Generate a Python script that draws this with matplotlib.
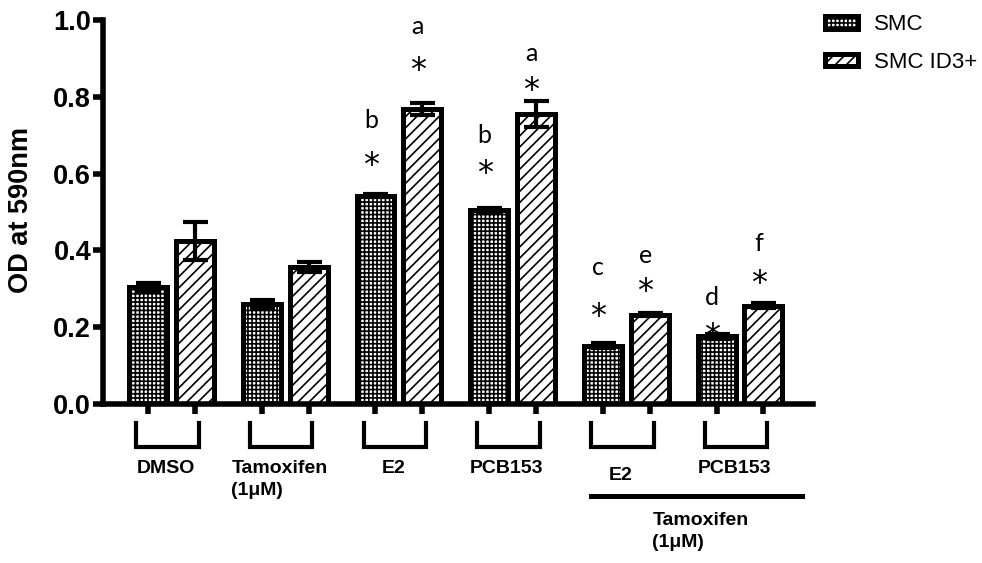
import numpy as np
import matplotlib
matplotlib.use("Agg")
import matplotlib.pyplot as plt
import matplotlib.transforms as mtransforms

# bar values
groups = ["DMSO", "Tamoxifen\n(1μM)", "E2", "PCB153", "E2", "PCB153"]
smc = [0.305, 0.260, 0.543, 0.505, 0.152, 0.176]
smc_err = [0.010, 0.012, 0.005, 0.005, 0.007, 0.006]
id3 = [0.424, 0.358, 0.769, 0.755, 0.233, 0.256]
id3_err = [0.050, 0.013, 0.016, 0.033, 0.005, 0.006]
series_names = ["SMC", "SMC ID3+"]

# significance marks: (group, bar 0=SMC 1=ID3+, letter, letter y, star y)
sig_group = [2, 2, 3, 3, 4, 4, 5, 5]
sig_bar = [0, 1, 0, 1, 0, 1, 0, 1]
sig_letter = ["b", "a", "b", "a", "c", "e", "d", "f"]
sig_letter_y = [0.739, 0.982, 0.700, 0.914, 0.355, 0.386, 0.277, 0.418]
sig_star_y = [0.642, 0.890, 0.621, 0.838, 0.248, 0.313, 0.196, 0.334]

plt.rcParams["font.family"] = ["Liberation Sans", "DejaVu Sans"]
plt.rcParams["hatch.linewidth"] = 1.2

fig = plt.figure(figsize=(9.82, 5.63), dpi=100)
ax = fig.add_axes([0.1049, 0.2824, 0.7230, 0.6820])

x = np.arange(len(groups))
off = 0.206
width = 0.333
lw = 3.6

b1 = ax.bar(x - off, smc, width, facecolor="white", edgecolor="black",
            linewidth=lw, hatch="++++", label=series_names[0], zorder=2)
b2 = ax.bar(x + off, id3, width, facecolor="white", edgecolor="black",
            linewidth=lw, hatch="///", label=series_names[1], zorder=2)
ax.errorbar(x - off, smc, yerr=smc_err, fmt="none", ecolor="black",
            elinewidth=3, capsize=9, capthick=3, zorder=3)
ax.errorbar(x + off, id3, yerr=id3_err, fmt="none", ecolor="black",
            elinewidth=3, capsize=9, capthick=3, zorder=3)

ax.set_ylim(0, 1.0)
ax.set_xlim(-0.602, 5.642)
ax.set_yticks(np.arange(0, 1.01, 0.2))
ax.set_yticklabels([f"{v:.1f}" for v in np.arange(0, 1.01, 0.2)],
                   fontsize=19.5, fontweight="bold")
ax.set_xticks(np.concatenate([x - off, x + off]))
ax.set_xticklabels([])
ax.tick_params(axis="both", direction="out", length=7, width=4, pad=1.5)
for s in ["top", "right"]:
    ax.spines[s].set_visible(False)
for s in ["left", "bottom"]:
    ax.spines[s].set_linewidth(4)
ax.set_ylabel("OD at 590nm", fontsize=19.5, fontweight="bold")
ax.yaxis.set_label_coords(-0.097, 0.505)

# significance letters and asterisks
star_fs = 23
star_tr = mtransforms.offset_copy(ax.transData, fig, y=-0.52 * star_fs, units="points")
for g, b, let, ly, sy in zip(sig_group, sig_bar, sig_letter, sig_letter_y, sig_star_y):
    xc = g + (off if b else -off) - 0.04
    ax.text(xc, ly, let, ha="center", va="center", fontsize=18, family="Lato")
    ax.text(xc, sy, "*", ha="center", va="baseline", fontsize=star_fs,
            family="DejaVu Sans", transform=star_tr)

# brackets and group labels under the axis
trans = mtransforms.blended_transform_factory(ax.transData, ax.transAxes)
for i, name in enumerate(groups):
    left, right = i - 0.31, i + 0.24
    ax.plot([left, left, right, right], [-0.049, -0.112, -0.112, -0.049],
            color="black", lw=3, transform=trans, clip_on=False,
            solid_joinstyle="miter")
    ty = -0.165 if i == 4 else -0.146
    ax.text(i - 0.05, ty, name, transform=trans, ha="center", va="top",
            fontsize=14, fontweight="bold", linespacing=1.4, multialignment="left")

# tamoxifen bar under the last two groups
ax.plot([4 - 0.31, 5 + 0.545], [-0.24, -0.24], color="black", lw=3.6,
        transform=trans, clip_on=False)
ax.text(4 + 0.23, -0.281, "Tamoxifen\n(1μM)", transform=trans, ha="left",
        va="top", fontsize=14, fontweight="bold", linespacing=1.4)

fig.legend(handles=[b1, b2], loc="upper left", bbox_to_anchor=(0.840, 0.975),
           frameon=False, fontsize=16, handlelength=1.5, handleheight=0.5,
           handletextpad=0.7, labelspacing=0.75, borderpad=0, borderaxespad=0)

fig.savefig("out.png", dpi=100, facecolor="white")
